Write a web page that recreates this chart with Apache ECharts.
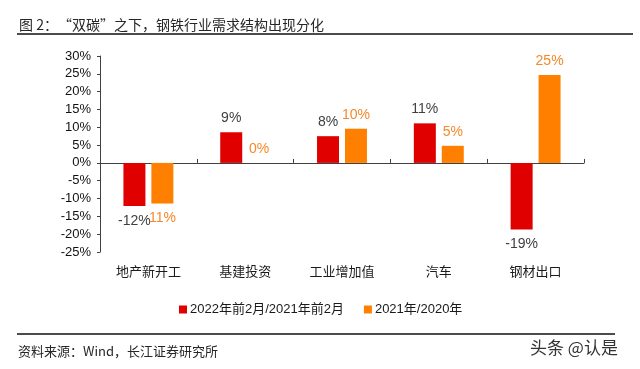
<!DOCTYPE html>
<html><head><meta charset="utf-8">
<script src="https://cdn.jsdelivr.net/npm/echarts@6/dist/echarts.min.js"></script>
<style>html,body{margin:0;padding:0;background:#fff}#c{width:640px;height:369px}</style>
</head><body><div id="c"></div>
<script>
const categories = ['地产新开工', '基建投资', '工业增加值', '汽车', '钢材出口'];
const seriesNames = ['2022年前2月/2021年前2月', '2021年/2020年'];
const valuesA = [-12.1, 8.6, 7.5, 11.1, -18.7];
const valuesB = [-11.4, 0, 9.6, 4.8, 24.7];
const labelsA = ['-12%', '9%', '8%', '11%', '-19%'];
const labelsB = ['11%', '0%', '10%', '5%', '25%'];
const yTicks = [-25, -20, -15, -10, -5, 0, 5, 10, 15, 20, 25, 30];

const FONT = '"Liberation Sans", Arial, "Noto Sans CJK SC", sans-serif';
const chart = echarts.init(document.getElementById('c'), null, {renderer: 'canvas'});

function mk(vals, labels, labelColor) {
  return vals.map((v, i) => ({
    value: v,
    label: {
      show: true,
      position: v < 0 ? 'bottom' : 'top',
      distance: v < 0 ? 8 : 7,
      formatter: () => labels[i],
      color: labelColor,
      fontSize: 14,
      fontFamily: FONT
    }
  }));
}

chart.setOption({
  animation: false,
  backgroundColor: '#fff',
  textStyle: {fontFamily: FONT},
  grid: {left: 100, right: 56, top: 56, bottom: 117},
  legend: {
    data: seriesNames,
    left: 174, top: 298,
    icon: 'rect', itemWidth: 8, itemHeight: 8, itemGap: 20,
    textStyle: {fontSize: 13, color: '#1a1a1a', fontFamily: FONT, padding: [0, 0, 0, -2]}
  },
  xAxis: [{
    type: 'category', data: categories,
    axisLine: {onZero: true, lineStyle: {color: '#404040', width: 1}},
    axisTick: {show: true, inside: true, length: 4, alignWithLabel: false, lineStyle: {color: '#404040'}},
    axisLabel: {show: false}
  }, {
    type: 'category', data: categories, position: 'bottom',
    axisLine: {show: false, onZero: false}, axisTick: {show: false},
    axisLabel: {show: true, margin: 13, fontSize: 13, color: '#1a1a1a', fontFamily: '"Noto Sans CJK SC", sans-serif'}
  }],
  yAxis: {
    type: 'value', min: yTicks[0], max: yTicks[yTicks.length - 1], interval: 5,
    axisLine: {show: true, lineStyle: {color: '#404040', width: 1}},
    axisTick: {show: true, length: 3, lineStyle: {color: '#404040'}},
    splitLine: {show: false},
    axisLabel: {formatter: v => v + '%', fontSize: 13, color: '#111', margin: 9, fontFamily: FONT}
  },
  series: [{
    name: seriesNames[0], type: 'bar', xAxisIndex: 0,
    barWidth: 22, barGap: '27%',
    itemStyle: {color: '#E00000'},
    data: mk(valuesA, labelsA, '#404040')
  }, {
    name: seriesNames[1], type: 'bar', xAxisIndex: 0,
    barWidth: 22, barGap: '27%',
    itemStyle: {color: '#FF8000'},
    data: mk(valuesB, labelsB, '#F5892A')
  }],
  graphic: [
    {type: 'text', left: 19, top: 18, style: {text: '图 2：“双碳”之下，钢铁行业需求结构出现分化', fontSize: 14, fill: '#262626', fontFamily: '"Noto Sans CJK SC", sans-serif'}},
    {type: 'line', shape: {x1: 17, y1: 34, x2: 633, y2: 34}, style: {stroke: '#111', lineWidth: 1.5}},
    {type: 'line', shape: {x1: 17, y1: 334, x2: 615, y2: 334}, style: {stroke: '#111', lineWidth: 1.5}},
    {type: 'text', left: 18, top: 345, style: {text: '资料来源：Wind，长江证券研究所', fontSize: 13, fill: '#262626', fontFamily: '"Noto Sans CJK SC", sans-serif'}},
    {type: 'text', left: 530, top: 339, style: {text: '头条 @认是', fontSize: 17, fill: '#333', fontFamily: '"Noto Sans CJK SC", sans-serif'}}
  ]
});
</script></body></html>
